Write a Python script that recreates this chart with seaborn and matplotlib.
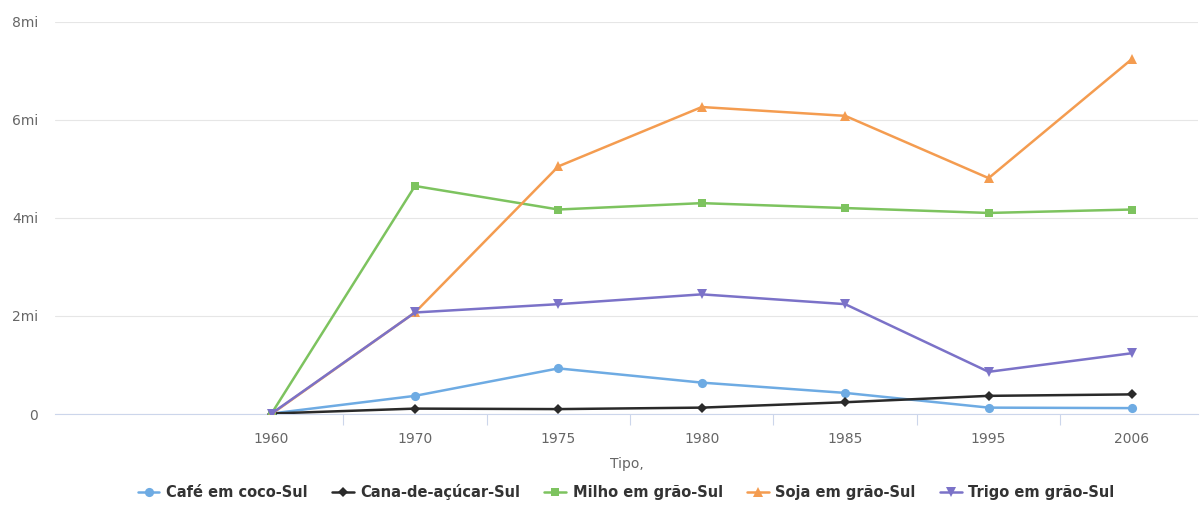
import matplotlib
matplotlib.use("Agg")
import matplotlib.pyplot as plt
from matplotlib.ticker import FixedLocator, FuncFormatter
from matplotlib.lines import Line2D
import seaborn as sns
import pandas as pd

# Área colhida / produção por cultura na região Sul
anos = ["1960", "1970", "1975", "1980", "1985", "1995", "2006"]
cafe = [0.01e6, 0.37e6, 0.93e6, 0.64e6, 0.43e6, 0.13e6, 0.12e6]
cana = [0.01e6, 0.11e6, 0.10e6, 0.13e6, 0.24e6, 0.37e6, 0.40e6]
milho = [0.01e6, 4.65e6, 4.17e6, 4.30e6, 4.20e6, 4.10e6, 4.17e6]
soja = [0.0, 2.07e6, 5.05e6, 6.26e6, 6.08e6, 4.81e6, 7.24e6]
trigo = [0.01e6, 2.07e6, 2.24e6, 2.44e6, 2.24e6, 0.86e6, 1.24e6]

series = ["Café em coco-Sul", "Cana-de-açúcar-Sul", "Milho em grão-Sul",
          "Soja em grão-Sul", "Trigo em grão-Sul"]
valores = [cafe, cana, milho, soja, trigo]
cores = ["#6eabe3", "#2a2a2a", "#7dc35f", "#f49c50", "#7b72c8"]
marcadores = ["o", "D", "s", "^", "v"]
tamanhos = [6.6, 5.2, 6.4, 6.8, 6.8]

linhas = []
for nome, vals in zip(series, valores):
    for i, v in enumerate(vals):
        linhas.append({"pos": i, "valor": v, "serie": nome})
df = pd.DataFrame(linhas)

sns.set_theme(style="white")
plt.rcParams["font.family"] = ["DejaVu Sans"]

W, H = 1202, 527
fig = plt.figure(figsize=(W / 100, H / 100), dpi=100)
ax_left, ax_right, ax_bottom, ax_top = 55, 1198, 414, 21.7
ax = fig.add_axes([ax_left / W, (H - ax_bottom) / H,
                   (ax_right - ax_left) / W, (ax_bottom - ax_top) / H])

grid_c = "#e6e6e6"
axis_c = "#ccd6eb"
txt_c = "#666666"

for nome, cor, mk, ms in zip(series, cores, marcadores, tamanhos):
    sub = df[df["serie"] == nome]
    sns.lineplot(data=sub, x="pos", y="valor", ax=ax, color=cor,
                 marker=mk, markersize=ms, markeredgewidth=0,
                 linewidth=1.8, legend=False, zorder=3)

# limites e grade
ax.set_ylim(0, 8e6)
ax.set_xlim(-1.51, 6.46)
ax.yaxis.set_major_locator(FixedLocator([0, 2e6, 4e6, 6e6, 8e6]))
ax.yaxis.set_major_formatter(FuncFormatter(
    lambda v, p: "0" if v == 0 else f"{int(v / 1e6)}mi"))
ax.grid(axis="y", color=grid_c, linewidth=0.8)
ax.grid(axis="x", visible=False)
ax.set_axisbelow(True)

ax.xaxis.set_major_locator(FixedLocator(range(len(anos))))
ax.set_xticklabels(anos)
ax.xaxis.set_minor_locator(FixedLocator([i + 0.5 for i in range(len(anos) - 1)]))
ax.tick_params(axis="x", which="major", length=0, pad=13, labelsize=10,
               labelcolor=txt_c)
ax.tick_params(axis="x", which="minor", length=8, width=0.8, color=axis_c,
               direction="out", bottom=True)
ax.tick_params(axis="y", length=0, pad=12, labelsize=10, labelcolor=txt_c)

for s in ["top", "right", "left"]:
    ax.spines[s].set_visible(False)
ax.spines["bottom"].set_color(axis_c)
ax.spines["bottom"].set_linewidth(0.8)

ax.set_xlabel("Tipo,", fontsize=10, color=txt_c, labelpad=8)
ax.set_ylabel("")

# legenda horizontal abaixo do gráfico
handles = [Line2D([0], [0], color=c, marker=m, markersize=s, markeredgewidth=0,
                  linewidth=1.8)
           for c, m, s in zip(cores, marcadores, tamanhos)]
leg = fig.legend(handles, series, loc="center", bbox_to_anchor=(626 / W, (H - 492) / H),
                 ncol=5, frameon=False, handlelength=1.5, handletextpad=0.45,
                 columnspacing=1.65,
                 prop={"weight": "bold", "size": 10.5})
for t in leg.get_texts():
    t.set_color("#333333")

fig.savefig("out.png", dpi=100, facecolor="white")
